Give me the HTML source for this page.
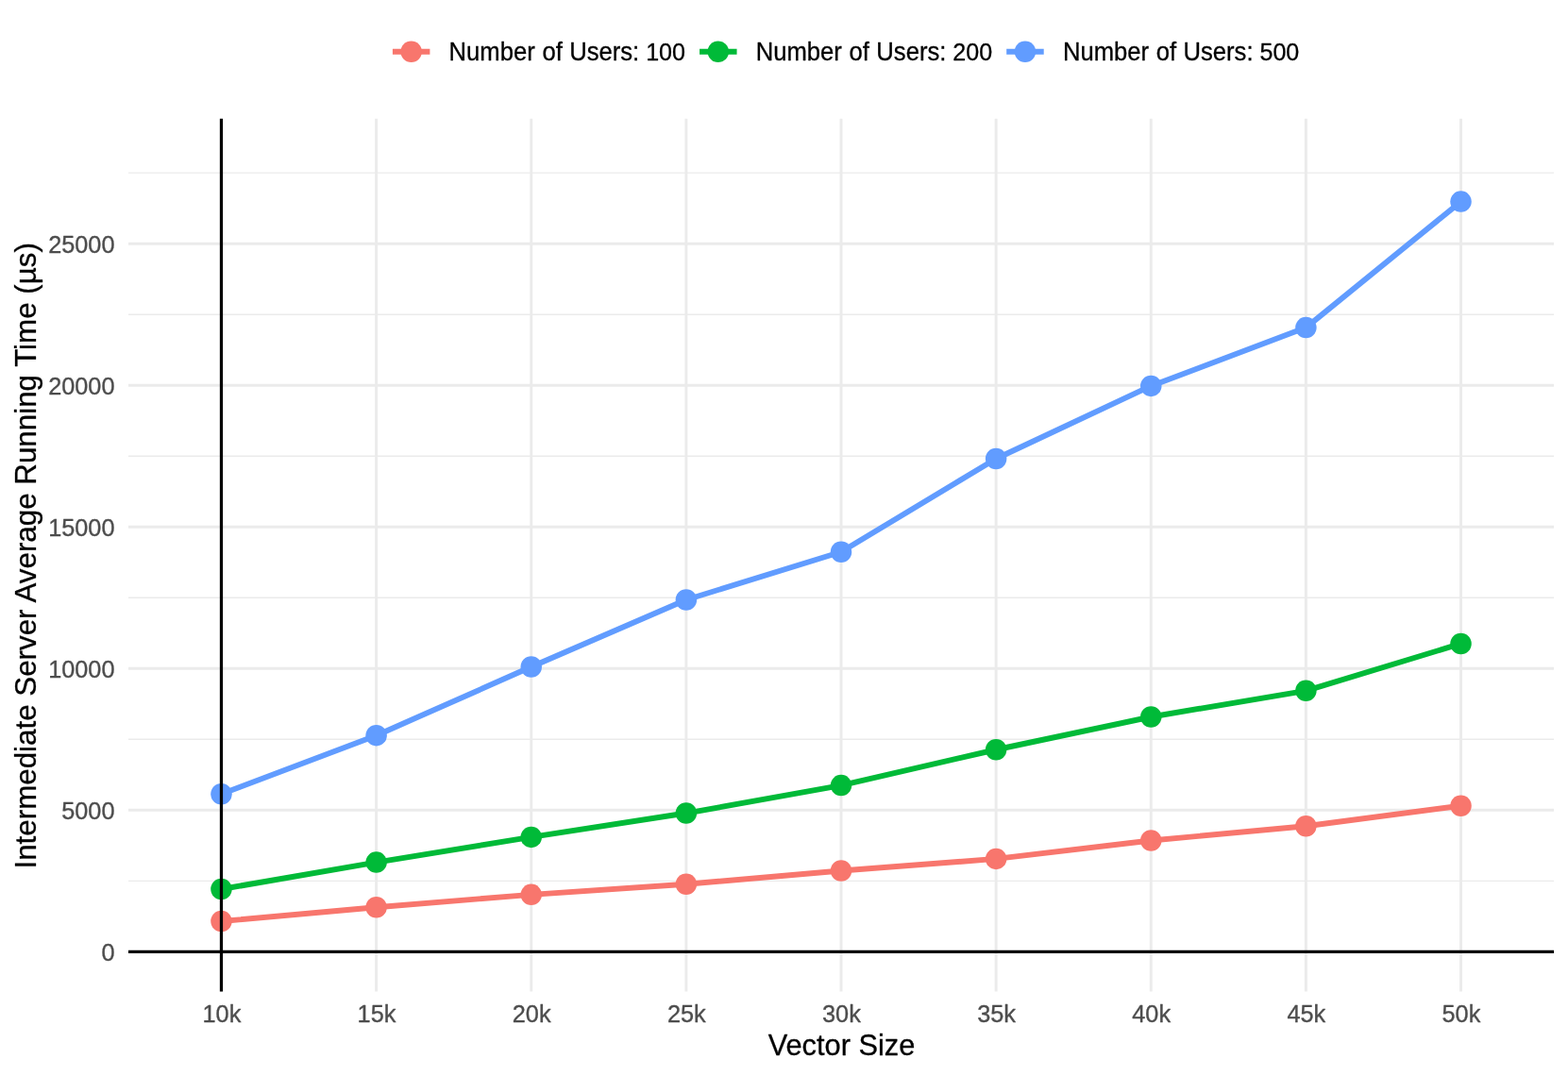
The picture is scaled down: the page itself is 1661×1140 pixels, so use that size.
<!DOCTYPE html>
<html lang="en">
<head>
<meta charset="utf-8">
<title>Intermediate Server Average Running Time by Vector Size</title>
<style>
html,body{margin:0;padding:0;background:#fff;}
body{width:1661px;height:1140px;overflow:hidden;}
svg{display:block;}
text{font-family:'Liberation Sans', sans-serif;}
.tick{font-size:25.3px;fill:#4D4D4D;stroke:#4D4D4D;stroke-width:0.35px;stroke-linejoin:round;}
.xt{font-size:30.8px;fill:#000;stroke:#000;stroke-width:0.3px;stroke-linejoin:round;}
.yt{font-size:31.33px;fill:#000;stroke:#000;stroke-width:0.3px;stroke-linejoin:round;}
.leg{font-size:25.64px;fill:#000;stroke:#000;stroke-width:0.3px;stroke-linejoin:round;}
</style>
</head>
<body>
<svg width="1661" height="1140" viewBox="0 0 1661 1140" role="img" aria-label="Line chart of intermediate server average running time by vector size">
<rect x="0" y="0" width="1661" height="1140" fill="#FFFFFF"/>
<g stroke="#EBEBEB" stroke-width="1.48" fill="none">
<line x1="136" y1="933.38" x2="1646.06" y2="933.38"/>
<line x1="136" y1="783.32" x2="1646.06" y2="783.32"/>
<line x1="136" y1="633.27" x2="1646.06" y2="633.27"/>
<line x1="136" y1="483.22" x2="1646.06" y2="483.22"/>
<line x1="136" y1="333.17" x2="1646.06" y2="333.17"/>
<line x1="136" y1="183.12" x2="1646.06" y2="183.12"/>
</g>
<g stroke="#EBEBEB" stroke-width="2.96" fill="none">
<line x1="136" y1="1008.4" x2="1646.06" y2="1008.4"/>
<line x1="136" y1="858.35" x2="1646.06" y2="858.35"/>
<line x1="136" y1="708.3" x2="1646.06" y2="708.3"/>
<line x1="136" y1="558.25" x2="1646.06" y2="558.25"/>
<line x1="136" y1="408.2" x2="1646.06" y2="408.2"/>
<line x1="136" y1="258.15" x2="1646.06" y2="258.15"/>
<line x1="234.48" y1="125.85" x2="234.48" y2="1050.5"/>
<line x1="398.61" y1="125.85" x2="398.61" y2="1050.5"/>
<line x1="562.74" y1="125.85" x2="562.74" y2="1050.5"/>
<line x1="726.87" y1="125.85" x2="726.87" y2="1050.5"/>
<line x1="891" y1="125.85" x2="891" y2="1050.5"/>
<line x1="1055.13" y1="125.85" x2="1055.13" y2="1050.5"/>
<line x1="1219.26" y1="125.85" x2="1219.26" y2="1050.5"/>
<line x1="1383.39" y1="125.85" x2="1383.39" y2="1050.5"/>
<line x1="1547.52" y1="125.85" x2="1547.52" y2="1050.5"/>
</g>
<polyline points="234.48,976.07 398.61,961.2 562.74,947.84 726.87,936.7 891,922.5 1055.13,909.9 1219.26,890.5 1383.39,875.3 1547.52,853.74" fill="none" stroke="#F8766D" stroke-width="5.93" stroke-linejoin="round" stroke-linecap="butt"/>
<polyline points="234.48,942 398.61,913.6 562.74,886.9 726.87,861.55 891,832.1 1055.13,794.25 1219.26,759.5 1383.39,731.8 1547.52,681.94" fill="none" stroke="#00BA38" stroke-width="5.93" stroke-linejoin="round" stroke-linecap="butt"/>
<polyline points="234.48,841.2 398.61,779.17 562.74,706.55 726.87,635.5 891,584.75 1055.13,485.97 1219.26,408.92 1383.39,347.1 1547.52,213.58" fill="none" stroke="#619CFF" stroke-width="5.93" stroke-linejoin="round" stroke-linecap="butt"/>
<g fill="#F8766D">
<circle cx="234.48" cy="976.07" r="11.25"/>
<circle cx="398.61" cy="961.2" r="11.25"/>
<circle cx="562.74" cy="947.84" r="11.25"/>
<circle cx="726.87" cy="936.7" r="11.25"/>
<circle cx="891" cy="922.5" r="11.25"/>
<circle cx="1055.13" cy="909.9" r="11.25"/>
<circle cx="1219.26" cy="890.5" r="11.25"/>
<circle cx="1383.39" cy="875.3" r="11.25"/>
<circle cx="1547.52" cy="853.74" r="11.25"/>
</g>
<g fill="#00BA38">
<circle cx="234.48" cy="942" r="11.25"/>
<circle cx="398.61" cy="913.6" r="11.25"/>
<circle cx="562.74" cy="886.9" r="11.25"/>
<circle cx="726.87" cy="861.55" r="11.25"/>
<circle cx="891" cy="832.1" r="11.25"/>
<circle cx="1055.13" cy="794.25" r="11.25"/>
<circle cx="1219.26" cy="759.5" r="11.25"/>
<circle cx="1383.39" cy="731.8" r="11.25"/>
<circle cx="1547.52" cy="681.94" r="11.25"/>
</g>
<g fill="#619CFF">
<circle cx="234.48" cy="841.2" r="11.25"/>
<circle cx="398.61" cy="779.17" r="11.25"/>
<circle cx="562.74" cy="706.55" r="11.25"/>
<circle cx="726.87" cy="635.5" r="11.25"/>
<circle cx="891" cy="584.75" r="11.25"/>
<circle cx="1055.13" cy="485.97" r="11.25"/>
<circle cx="1219.26" cy="408.92" r="11.25"/>
<circle cx="1383.39" cy="347.1" r="11.25"/>
<circle cx="1547.52" cy="213.58" r="11.25"/>
</g>
<g stroke="#000000" stroke-width="3.25" fill="none">
<line x1="136" y1="1008.4" x2="1646.06" y2="1008.4"/>
<line x1="234.48" y1="125.85" x2="234.48" y2="1050.5"/>
</g>
<g class="tick" text-anchor="end">
<text transform="translate(121.5,1018) scale(1,1.05)">0</text>
<text transform="translate(121.5,867.95) scale(1,1.05)">5000</text>
<text transform="translate(121.5,717.9) scale(1,1.05)">10000</text>
<text transform="translate(121.5,567.85) scale(1,1.05)">15000</text>
<text transform="translate(121.5,417.8) scale(1,1.05)">20000</text>
<text transform="translate(121.5,267.75) scale(1,1.05)">25000</text>
</g>
<g class="tick" text-anchor="middle">
<text transform="translate(234.88,1082.9) scale(1,1.05)">10k</text>
<text transform="translate(399.01,1082.9) scale(1,1.05)">15k</text>
<text transform="translate(563.14,1082.9) scale(1,1.05)">20k</text>
<text transform="translate(727.27,1082.9) scale(1,1.05)">25k</text>
<text transform="translate(891.4,1082.9) scale(1,1.05)">30k</text>
<text transform="translate(1055.53,1082.9) scale(1,1.05)">35k</text>
<text transform="translate(1219.66,1082.9) scale(1,1.05)">40k</text>
<text transform="translate(1383.79,1082.9) scale(1,1.05)">45k</text>
<text transform="translate(1547.92,1082.9) scale(1,1.05)">50k</text>
</g>
<text class="xt" text-anchor="middle" transform="translate(891.5,1117.6) scale(1,1.01)">Vector Size</text>
<text class="yt" text-anchor="middle" transform="translate(37.75,588.85) rotate(-90) scale(1,1.03)">Intermediate Server Average Running Time (µs)</text>
<line x1="415.9" y1="54.8" x2="455.4" y2="54.8" stroke="#F8766D" stroke-width="5.93"/>
<circle cx="435.65" cy="54.8" r="11.25" fill="#F8766D"/>
<text class="leg" transform="translate(475.6,63.75) scale(1,1.05)">Number <tspan dx="0.6">of </tspan><tspan dx="0.3">Users: </tspan><tspan dx="-0.2" style="font-size:25.08px">100</tspan></text>
<line x1="741.05" y1="54.8" x2="780.55" y2="54.8" stroke="#00BA38" stroke-width="5.93"/>
<circle cx="760.8" cy="54.8" r="11.25" fill="#00BA38"/>
<text class="leg" transform="translate(800.75,63.75) scale(1,1.05)">Number <tspan dx="0.6">of </tspan><tspan dx="0.3">Users: </tspan><tspan dx="-0.2" style="font-size:25.08px">200</tspan></text>
<line x1="1066.2" y1="54.8" x2="1105.7" y2="54.8" stroke="#619CFF" stroke-width="5.93"/>
<circle cx="1085.95" cy="54.8" r="11.25" fill="#619CFF"/>
<text class="leg" transform="translate(1125.9,63.75) scale(1,1.05)">Number <tspan dx="0.6">of </tspan><tspan dx="0.3">Users: </tspan><tspan dx="-0.2" style="font-size:25.08px">500</tspan></text>
</svg>
</body>
</html>
